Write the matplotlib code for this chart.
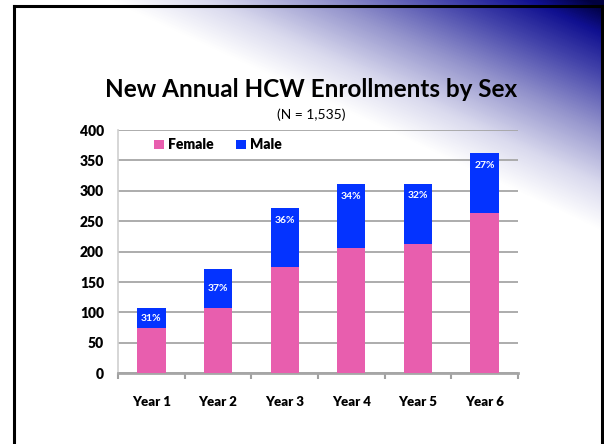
import numpy as np
import matplotlib
matplotlib.use("Agg")
import matplotlib.pyplot as plt
from matplotlib.colors import LinearSegmentedColormap
from matplotlib.lines import Line2D

plt.rcParams['font.family'] = ['Lato', 'DejaVu Sans']

years = ["Year 1", "Year 2", "Year 3", "Year 4", "Year 5", "Year 6"]
female = [74, 108, 174, 206, 213, 263]
male = [33, 64, 97, 105, 99, 99]
male_pct = ["31%", "37%", "36%", "34%", "32%", "27%"]
yticks = [0, 50, 100, 150, 200, 250, 300, 350, 400]

pink = "#E85EAE"
blue = "#0433FF"

W, H = 604, 444
fig = plt.figure(figsize=(W / 100, H / 100), dpi=100)

# slide background: diagonal blue gradient in the top right corner
bg = fig.add_axes([0, 0, 1, 1], zorder=-5)
xx, yy = np.meshgrid(np.arange(W), np.arange(H))
d = ((xx - 120) * 224 - (yy - 6) * 480) / np.hypot(224, 480)
t = np.clip(d / 203, 0, 1)
cmap = LinearSegmentedColormap.from_list(
    "slide", [(0, "#ffffff"), (0.2, "#dadaee"), (0.45, "#9494cc"),
              (0.7, "#4444aa"), (0.88, "#101090"), (1, "#000040")])
bg.imshow(t, cmap=cmap, vmin=0, vmax=1, extent=[0, W, H, 0], aspect="auto")
bg.set_xlim(0, W)
bg.set_ylim(H, 0)
bg.axis("off")

# black slide frame
for xs, ys in [([13.5, 13.5], [6, H]), ([601.5, 601.5], [6, H]), ([13.5, 601.5], [6.5, 6.5])]:
    bg.add_line(Line2D(xs, ys, color="black", lw=2.2))

fig.text(311 / W, 1 - 89 / H, "New Annual HCW Enrollments by Sex", ha="center", va="center",
         fontsize=17.5, fontweight="bold", color="black")
fig.text(311 / W, 1 - 115 / H, "(N = 1,535)", ha="center", va="center", fontsize=10, color="black")

ax = fig.add_axes([118 / W, 1 - 373.3 / H, 400 / W, 243.3 / H])
ax.set_facecolor("none")

x = np.arange(len(years))
female_arr = np.array(female)
male_arr = np.array(male)
total = female_arr + male_arr
ax.bar(x, female_arr, width=0.425, color=pink, label="Female", zorder=3)
ax.bar(x, male_arr, width=0.425, bottom=female_arr, color=blue, label="Male", zorder=3)

label_y = np.where(male_arr < 70, female_arr + male_arr / 2, total - 20)
for xi, yi, p in zip(x, label_y, male_pct):
    ax.text(xi, yi, p, ha="center", va="center", color="white", fontsize=7.5,
            fontweight="bold", zorder=4)

ax.set_xlim(-0.5, len(years) - 0.5)
ax.set_ylim(0, 400)
ax.set_yticks(yticks)
ax.set_yticklabels([str(v) for v in yticks], fontsize=10, fontweight="heavy")
ax.set_xticks(x)
ax.set_xticklabels(years, fontsize=9.5, fontweight="heavy")
ax.set_xticks(np.arange(len(years) + 1) - 0.5, minor=True)
ax.tick_params(axis="x", which="major", length=0, pad=16)
ax.tick_params(axis="x", which="minor", length=4, width=1.5, color="#a0a0a0", direction="out")
ax.tick_params(axis="y", length=0, pad=10)
ax.yaxis.grid(True, color="#a6a6a6", lw=1.3, zorder=1)

for s in ["top", "right"]:
    ax.spines[s].set_visible(False)
ax.spines["left"].set_color("#cfcfcf")
ax.spines["left"].set_linewidth(1.2)
ax.spines["bottom"].set_color("#a6a6a6")
ax.spines["bottom"].set_linewidth(2)

ax.legend(loc="upper left", bbox_to_anchor=(0.07, 1.0), ncol=2, frameon=False,
          handlelength=0.7, handleheight=0.7, handletextpad=0.3, columnspacing=1.6,
          prop={"size": 10, "weight": "heavy"}, borderaxespad=0.2)

fig.savefig("out.png", dpi=100)
